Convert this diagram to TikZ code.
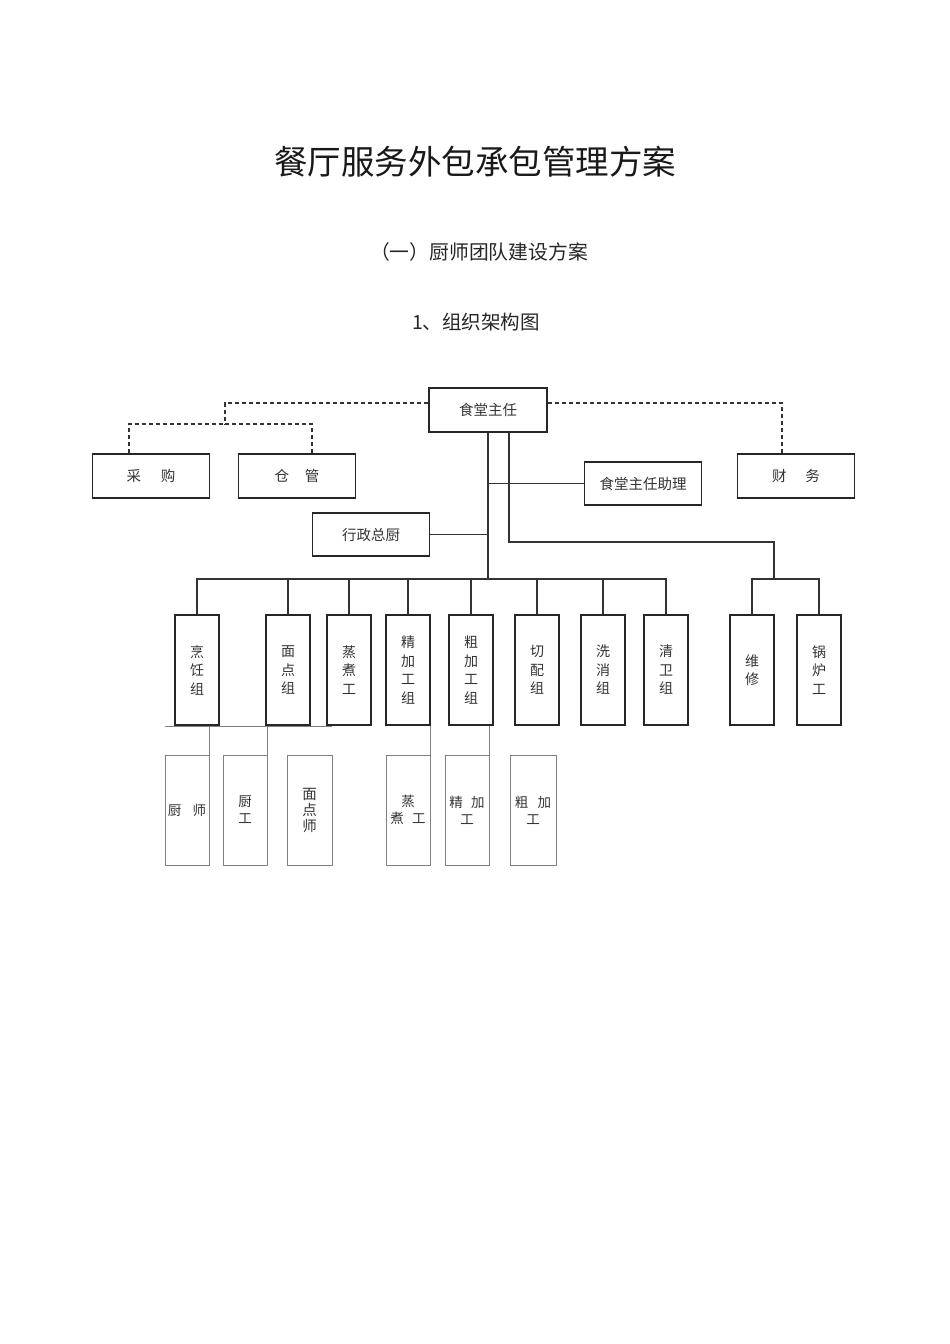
\documentclass[tikz,border=0pt]{standalone}
\usepackage{fontspec}
\setmainfont{Noto Sans CJK SC}
\usetikzlibrary{positioning}

\tikzset{
  unit/.style={draw=black!85, line width=1.2pt, minimum width=117pt, minimum height=44pt, inner sep=0pt, text=black!80, font=\fontsize{14.5}{17}\selectfont},
  group/.style={draw=black!85, line width=1.2pt, minimum width=44pt, minimum height=110pt, inner sep=0pt, align=center, text=black!80, font=\fontsize{14}{18.5}\selectfont},
  worker/.style={draw=black!50, line width=0.8pt, minimum width=44pt, minimum height=110pt, inner sep=0pt, align=center, text=black!80, font=\fontsize{13.5}{17}\selectfont},
  link/.style={draw=black!80, line width=1.2pt},
  dashlink/.style={draw=black!80, line width=1.1pt, dash pattern=on 4pt off 3pt},
  thinlink/.style={draw=black!50, line width=0.8pt}
}

\begin{document}
\begin{tikzpicture}[x=1pt, y=-1pt]
\useasboundingbox[fill=white] (0,0) rectangle (950,1344);

\node[text=black!90] (title) at (475,162) {\fontsize{33.5}{40}\selectfont 餐厅服务外包承包管理方案};
\node[text=black!85] (sub) at (479,252) {\fontsize{19.8}{24}\selectfont （一）厨师团队建设方案};
\node[text=black!85] (chart) at (476,322) {\fontsize{19.5}{24}\selectfont 1、组织架构图};

\node[unit, minimum width=118pt] (zr) at (488,410) {食堂主任};
\node[unit] (cg) at (151,476) {采\hspace{1.35em}购};
\node[unit] (cgl) at (297,476) {仓\hspace{1.07em}管};
\node[unit] (cw) at (796,476) {财\hspace{1.3em}务};
\node[unit, minimum height=43pt] (zl) at (643,483.5) {食堂主任助理};
\node[unit, minimum height=43pt] (xz) at (371,534.5) {行政总厨};

\node[group] (pr) at (197,670) {烹\\饪\\组};
\node[group] (md) at (288,670) {面\\点\\组};
\node[group] (zz) at (349,670) {蒸\\煮\\工};
\node[group] (jj) at (408,670) {精\\加\\工\\组};
\node[group] (cj) at (471,670) {粗\\加\\工\\组};
\node[group] (qp) at (537,670) {切\\配\\组};
\node[group] (xx) at (603,670) {洗\\消\\组};
\node[group] (qw) at (666,670) {清\\卫\\组};
\node[group] (wx) at (752,670) {维\\修};
\node[group] (gl) at (819,670) {锅\\炉\\工};

\node[worker] (cs) at (187,810) {厨\hspace{0.85em}师};
\node[worker] (cgo) at (245,810) {厨\\工};
\node[worker, minimum width=45pt, font=\fontsize{14.5}{16}\selectfont] (mds) at (309.5,810) {面\\点\\师};
\node[worker] (zzg) at (408,810) {蒸\\煮\hspace{0.6em}工};
\node[worker] (jjg) at (467,810) {精\hspace{0.6em}加\\工};
\node[worker, minimum width=46pt] (cjg) at (533,810) {粗\hspace{0.7em}加\\工};

\coordinate (dl) at (225,403);
\coordinate (dm) at (225,424);
\coordinate (bus) at (488,579);
\coordinate (wb) at (774,542);
\coordinate (rbus) at (774,579);

\draw[dashlink] ([yshift=7]zr.west) -- (dl) -- (dm);
\draw[dashlink] ([xshift=-22]cg.north) |- (dm);
\draw[dashlink] ([xshift=15]cgl.north) |- (dm);
\draw[dashlink] ([yshift=7]zr.east) -| ([xshift=-14]cw.north);

\draw[link] (zr.south) -- (bus);
\draw[link] (zl.west) -- (zl.west -| zr.south);
\draw[link] (xz.east) -- (xz.east -| zr.south);
\draw[link] ([xshift=21]zr.south) |- (wb) -- (rbus);

\foreach \g in {pr,md,zz,jj,cj,qp,xx,qw}
  \draw[link] (\g.north) |- (bus);
\foreach \g in {wx,gl}
  \draw[link] (\g.north) |- (rbus);

\draw[thinlink] (165,726) -- (332,726);
\foreach \w in {cs,cgo,zzg,jjg}
  \draw[thinlink] (\w.north east) -- (\w.north east |- pr.south);
\end{tikzpicture}
\end{document}
